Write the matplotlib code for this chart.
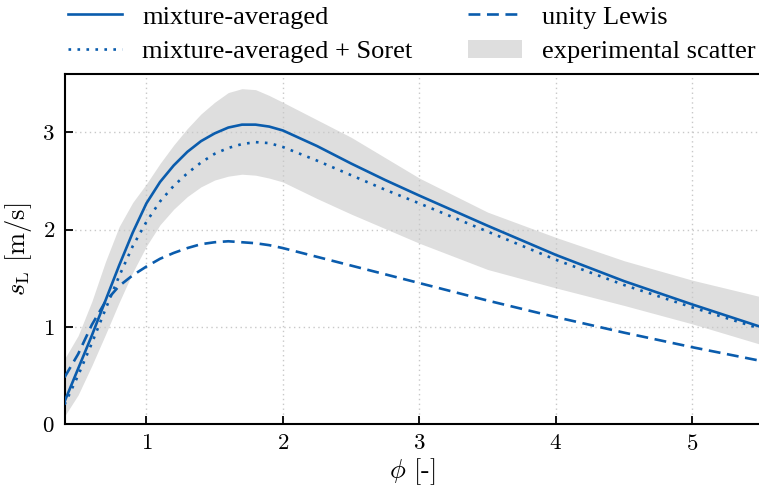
import matplotlib

matplotlib.use("Agg")
import matplotlib.pyplot as plt

# laminar flame speed vs equivalence ratio
phi = [0.40, 0.50, 0.60, 0.70, 0.80, 0.90, 1.00, 1.10, 1.20, 1.30, 1.40,
       1.50, 1.60, 1.70, 1.80, 1.90, 2.00, 2.25, 2.50, 2.75, 3.00, 3.50,
       4.00, 4.50, 5.00, 5.50]
sl_mix = [0.23, 0.57, 0.91, 1.27, 1.63, 1.97, 2.27, 2.49, 2.66, 2.80, 2.91,
          2.99, 3.05, 3.08, 3.08, 3.06, 3.02, 2.86, 2.68, 2.51, 2.35, 2.04,
          1.74, 1.47, 1.23, 1.00]
sl_soret = [0.20, 0.50, 0.83, 1.18, 1.52, 1.83, 2.08, 2.29, 2.45, 2.58, 2.69,
            2.78, 2.84, 2.88, 2.90, 2.89, 2.85, 2.71, 2.56, 2.41, 2.27, 1.98,
            1.69, 1.43, 1.20, 0.98]
sl_unity_le = [0.48, 0.72, 1.02, 1.26, 1.42, 1.53, 1.62, 1.70, 1.76, 1.81,
               1.85, 1.87, 1.88, 1.87, 1.86, 1.84, 1.81, 1.72, 1.63, 1.54,
               1.45, 1.27, 1.10, 0.94, 0.79, 0.65]
exp_low = [0.08, 0.30, 0.60, 0.92, 1.25, 1.56, 1.83, 2.05, 2.21, 2.34, 2.44,
           2.51, 2.55, 2.57, 2.56, 2.53, 2.49, 2.32, 2.16, 2.01, 1.86, 1.59,
           1.40, 1.22, 1.03, 0.82]
exp_high = [0.67, 0.91, 1.26, 1.67, 2.03, 2.28, 2.47, 2.68, 2.87, 3.04, 3.19,
            3.31, 3.41, 3.45, 3.44, 3.38, 3.31, 3.13, 2.95, 2.74, 2.53, 2.18,
            1.92, 1.68, 1.48, 1.31]

LINE_COLOR = "#0a5cad"
BAND_COLOR = "#dedede"
LEGEND_FONT = {"family": "Liberation Serif", "size": 19}

plt.rcParams["mathtext.fontset"] = "cm"
plt.rcParams["font.family"] = "cmr10"
plt.rcParams["axes.formatter.use_mathtext"] = True

fig = plt.figure(figsize=(7.59, 4.94), dpi=100)
ax = fig.add_axes([0.085, 0.1417, 0.917, 0.7083])

ax.fill_between(phi, exp_low, exp_high, color=BAND_COLOR, linewidth=0,
                label="experimental scatter", zorder=1)
ax.plot(phi, sl_mix, color=LINE_COLOR, lw=1.9, label="mixture-averaged", zorder=3)
ax.plot(phi, sl_soret, color=LINE_COLOR, lw=1.9, ls=(0, (1, 2.4)),
        label="mixture-averaged + Soret", zorder=3)
ax.plot(phi, sl_unity_le, color=LINE_COLOR, lw=1.9, ls=(0, (4.5, 2.5)),
        label="unity Lewis", zorder=3)

ax.set_xlim(0.4, 5.5)
ax.set_ylim(0, 3.6)
ax.set_xticks([1, 2, 3, 4, 5])
ax.set_yticks([0, 1, 2, 3])
ax.grid(True, color="#c8c8c8", ls=(0, (1, 2.5)), lw=1.0, zorder=0)
ax.tick_params(direction="in", length=6, width=1.3, labelsize=16.5, pad=7)
for spine in ax.spines.values():
    spine.set_linewidth(1.5)
ax.spines["right"].set_visible(False)

ax.set_xlabel(r"$\phi$ [-]", fontsize=19, labelpad=2)
ax.set_ylabel(r"$s_\mathrm{L}$ [m/s]", fontsize=19, labelpad=6)

handles, labels = ax.get_legend_handles_labels()
order = [1, 2, 3, 0]
fig.legend([handles[i] for i in order], [labels[i] for i in order],
           ncol=2, frameon=False, loc="lower left",
           bbox_to_anchor=(0.0896, 0.872), handlelength=2.05,
           handletextpad=0.76, columnspacing=2.1, prop=LEGEND_FONT,
           borderaxespad=0, borderpad=0, labelspacing=0.42)

fig.savefig("out.png", dpi=100)
